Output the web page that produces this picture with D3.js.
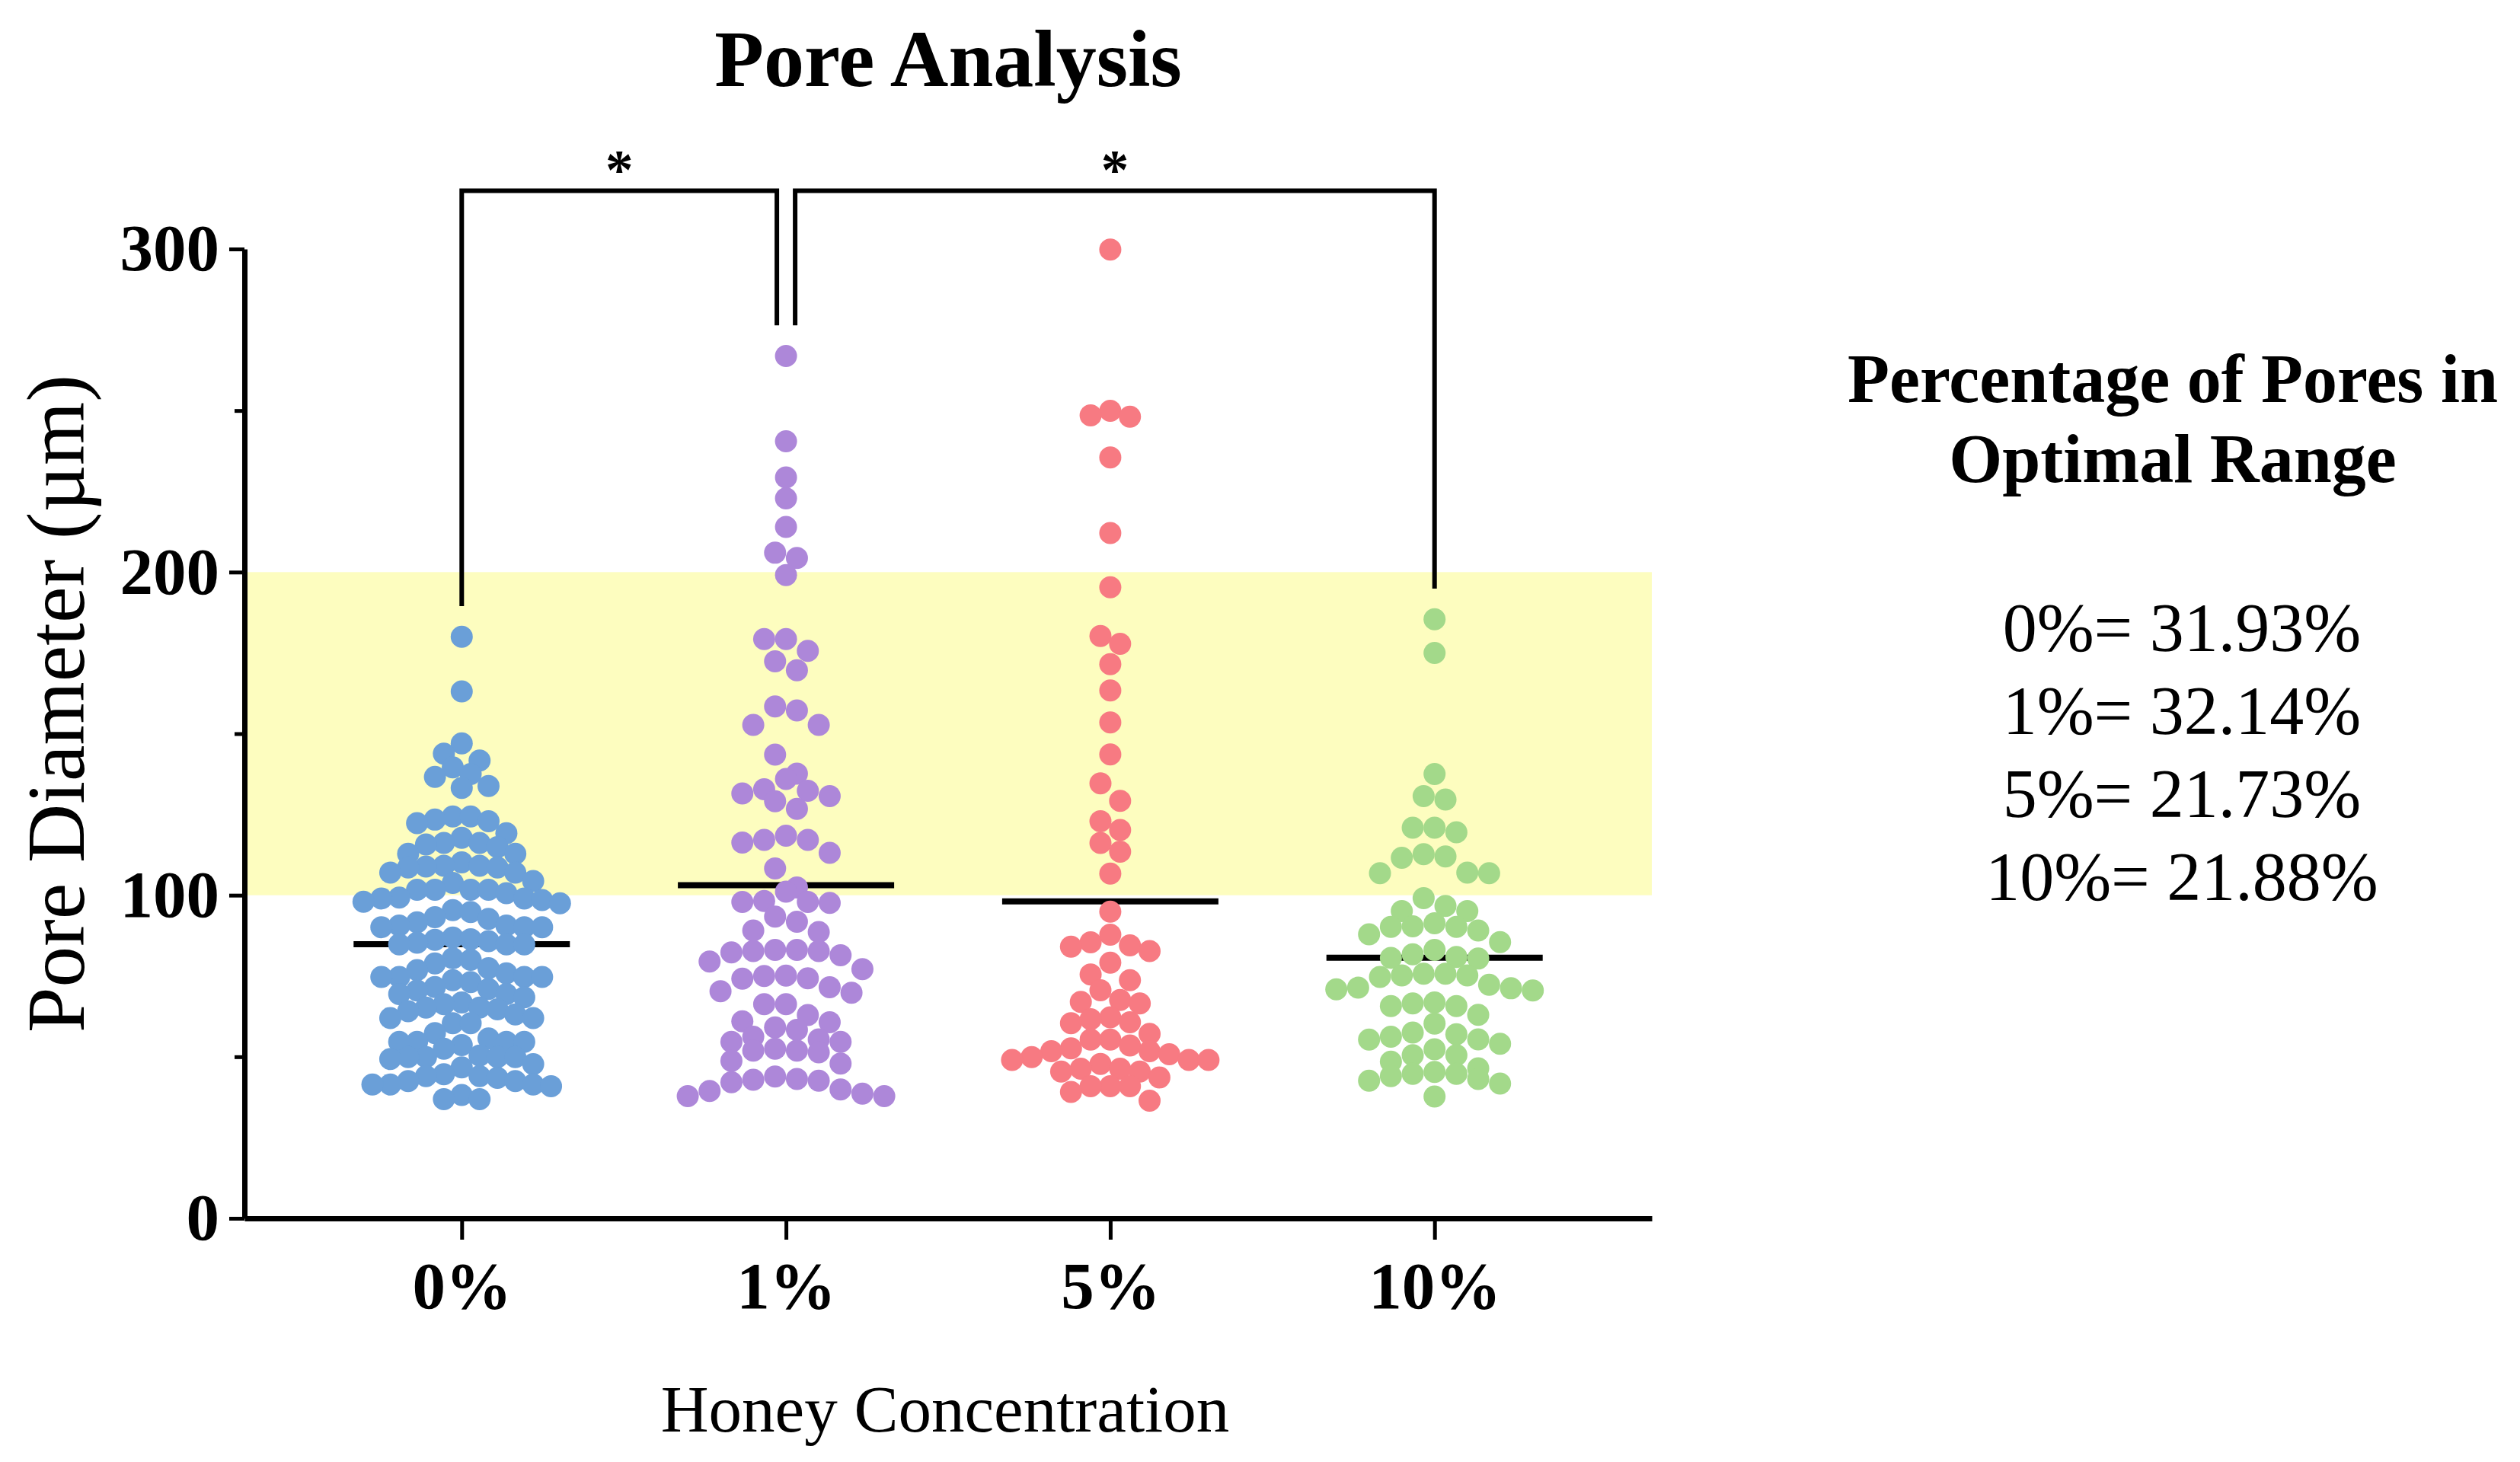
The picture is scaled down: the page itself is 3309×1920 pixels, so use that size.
<!DOCTYPE html>
<html>
<head>
<meta charset="utf-8">
<script src="https://cdn.jsdelivr.net/npm/d3@7"></script>
<style>
  body { margin: 0; background: #fff; }
  text { font-family: "Liberation Serif", "Times New Roman", serif; }
</style>
</head>
<body>
<div id="chart-container"></div>
<script>
const groups = ["0%", "1%", "5%", "10%"]
const colors = ["#6a9fd8", "#ad87d9", "#f77a82", "#a3d98a"]
const yTicks = [0, 100, 200, 300]
const yMinorTicks = [50, 150, 250]
const optimalRange = [100, 200]
const optimalLines = ["0%= 31.93%", "1%= 32.14%", "5%= 21.73%", "10%= 21.88%"]

// pore diameters (µm), one array per honey concentration
const pores0 = [
  180.0, 163.1, 147.0, 143.8, 141.7, 139.6, 137.5, 136.6, 133.8, 133.2,
  124.4, 123.4, 122.9, 124.4, 122.3, 119.2, 116.2, 114.9, 115.7, 116.2,
  117.8, 112.8, 112.8, 109.1, 109.1, 107.0, 108.9, 108.6, 108.6, 110.2,
  107.0, 104.4, 101.7, 101.7, 101.7, 101.7, 103.8, 100.6, 99.3, 98.5,
  99.0, 99.0, 97.5, 98.0, 95.4, 94.8, 93.2, 92.7, 91.6, 90.6,
  90.6, 90.1, 90.1, 90.1, 86.9, 86.2, 86.4, 85.8, 84.8, 85.3,
  84.8, 84.8, 80.5, 80.0, 78.9, 77.4, 76.8, 74.7, 74.7, 73.7,
  73.1, 74.7, 75.8, 74.7, 71.6, 71.0, 70.5, 69.4, 69.4, 68.4,
  66.8, 66.3, 65.2, 65.2, 64.7, 64.1, 63.1, 62.0, 62.0, 60.4,
  60.4, 57.3, 55.7, 54.6, 54.6, 54.6, 54.6, 53.6, 52.5, 50.4,
  49.9, 49.9, 49.9, 49.3, 49.9, 47.7, 46.7, 44.6, 44.0, 44.0,
  43.5, 42.5, 42.5, 41.4, 41.4, 40.9, 41.4, 38.2, 36.9, 36.9
]
const pores1 = [
  266.9, 240.5, 229.3, 222.8, 214.0, 206.0, 204.4, 199.1, 175.6, 179.3,
  179.3, 172.4, 169.6, 158.4, 157.2, 152.7, 152.7, 143.5, 136.0, 137.6,
  132.3, 131.5, 129.1, 126.7, 132.8, 130.7, 118.4, 116.3, 117.1, 117.1,
  113.1, 108.3, 101.1, 102.4, 97.9, 98.2, 97.9, 97.6, 91.8, 93.4,
  89.1, 88.6, 83.1, 82.7, 79.5, 82.7, 83.1, 81.4, 82.3, 75.1,
  74.3, 77.1, 74.2, 75.0, 69.8, 71.5, 70.3, 66.3, 66.3, 62.9,
  60.7, 61.0, 56.2, 58.3, 59.1, 51.9, 52.5, 51.9, 54.6, 55.4,
  54.6, 47.9, 51.4, 48.7, 43.9, 42.6, 43.1, 42.9, 42.1, 39.4,
  37.8, 38.6, 39.9, 37.8
]
const pores5 = [
  299.8, 248.1, 249.9, 248.5, 235.5, 212.1, 195.3, 180.2, 177.8, 171.5,
  163.4, 153.5, 143.6, 134.6, 129.2, 122.9, 120.2, 116.2, 113.5, 106.7,
  94.9, 87.8, 84.5, 84.1, 82.7, 85.4, 79.1, 73.7, 75.5, 70.6,
  66.5, 67.6, 67.0, 61.6, 62.2, 60.7, 60.4, 57.1, 55.3, 49.0,
  49.9, 50.8, 53.5, 55.3, 52.6, 51.7, 51.7, 49.0, 49.0, 45.4,
  47.8, 46.3, 46.3, 45.4, 43.6, 39.1, 40.9, 40.9, 40.9, 36.4
]
const pores10 = [
  185.4, 175.0, 137.5, 130.7, 129.6, 120.9, 119.5, 120.9, 111.6, 112.7,
  112.0, 106.8, 106.8, 107.0, 99.1, 95.1, 95.1, 96.7, 89.1, 90.2,
  90.4, 91.3, 90.2, 87.9, 85.5, 80.6, 81.7, 80.4, 83.1, 80.9,
  75.7, 75.7, 74.7, 75.2, 75.2, 71.2, 72.3, 71.4, 70.9, 70.5,
  66.8, 66.5, 65.7, 65.7, 63.0, 60.3, 54.0, 55.4, 57.0, 55.3,
  57.5, 56.2, 52.3, 50.5, 48.5, 50.5, 44.0, 46.4, 44.7, 43.1,
  41.7, 42.6, 45.3, 44.7, 37.7
]
const series = [pores0, pores1, pores5, pores10]

// significance brackets
const comparisons = [
  { from: "0%", to: "1%", label: "*" },
  { from: "1%", to: "10%", label: "*" }
]

const width = 3309
const height = 1920
const plot = { left: 321, right: 2169, top: 327, bottom: 1600 }
const dotR = 14.5
const meanHalf = 142

const x = d3.scalePoint()
  .domain(groups)
  .range([plot.left, plot.right])
  .padding(0.67)
const y = d3.scaleLinear()
  .domain([0, 300])
  .range([plot.bottom, plot.top])

// prism-like scatter: rows of close values spread side by side
function swarm(values, cx) {
  const rowSpan = 27 / (y(0) - y(1))
  const sorted = values.slice().sort((a, b) => b - a)
  const rows = []
  sorted.forEach(v => {
    const row = rows[rows.length - 1]
    if (row && row[0] - v < rowSpan) row.push(v)
    else rows.push([v])
  })
  const maxN = d3.max(rows, r => r.length)
  const step = Math.min(28.7, 258 / Math.max(1, maxN - 1))
  return rows.flatMap(row => {
    const n = row.length
    const slots = d3.range(n).map(k => (k - (n - 1) / 2) * step)
    const order = d3.range(n).sort((a, b) =>
      Math.abs(slots[a]) - Math.abs(slots[b]) || slots[a] - slots[b])
    return row.map((v, k) => ({ value: v, x: cx + slots[order[k]] }))
  })
}

const svg = d3.select("#chart-container")
  .append("svg")
    .attr("width", width)
    .attr("height", height)
    .attr("viewBox", `0 0 ${width} ${height}`)

svg.append("rect")
  .attr("width", width)
  .attr("height", height)
  .attr("fill", "#fff")

// optimal range band
svg.append("rect")
  .attr("x", plot.left)
  .attr("width", plot.right - plot.left)
  .attr("y", y(optimalRange[1]))
  .attr("height", y(optimalRange[0]) - y(optimalRange[1]))
  .attr("fill", "#fdfdbf")

// mean lines
groups.forEach((g, i) => {
  const m = d3.mean(series[i])
  svg.append("line")
    .attr("x1", x(g) - meanHalf)
    .attr("x2", x(g) + meanHalf)
    .attr("y1", y(m))
    .attr("y2", y(m))
    .attr("stroke", "#000")
    .attr("stroke-width", 8)
})

// dots
groups.forEach((g, i) => {
  svg.append("g")
    .selectAll("circle")
    .data(swarm(series[i], x(g)))
    .join("circle")
      .attr("cx", d => d.x)
      .attr("cy", d => y(d.value))
      .attr("r", dotR)
      .attr("fill", colors[i])
})

// y axis
const yAxis = svg.append("g")
  .attr("transform", `translate(${plot.left},0)`)
  .call(d3.axisLeft(y).tickValues(yTicks).tickSize(20).tickSizeOuter(0).tickPadding(13))
yAxis.select(".domain").attr("stroke-width", 7)
yAxis.selectAll(".tick line").attr("stroke-width", 5)
yAxis.selectAll(".tick text")
  .attr("font-family", "Liberation Serif, serif")
  .attr("font-size", 87)
  .attr("font-weight", "bold")
  .attr("fill", "#000")

svg.append("g")
  .attr("transform", `translate(${plot.left},0)`)
  .call(d3.axisLeft(y).tickValues(yMinorTicks).tickSize(13).tickFormat(""))
  .call(g => g.select(".domain").remove())
  .selectAll(".tick line").attr("stroke-width", 5)

// x axis
const xAxis = svg.append("g")
  .attr("transform", `translate(0,${plot.bottom})`)
  .call(d3.axisBottom(x).tickSize(28).tickSizeOuter(0).tickPadding(28))
xAxis.select(".domain").attr("stroke-width", 7)
xAxis.selectAll(".tick line").attr("stroke-width", 5)
xAxis.selectAll(".tick text")
  .attr("font-family", "Liberation Serif, serif")
  .attr("font-size", 87)
  .attr("font-weight", "bold")
  .attr("fill", "#000")

// significance brackets
const used = d3.rollup(comparisons.flatMap(c => [c.from, c.to]), v => v.length, d => d)
const maxOf = g => d3.max(series[groups.indexOf(g)])
const barY = y(318)
comparisons.forEach(c => {
  const xa = x(c.from) + (used.get(c.from) > 1 ? 12 : 0)
  const xb = x(c.to) - (used.get(c.to) > 1 ? 12 : 0)
  const path = d3.path()
  path.moveTo(xa, y(maxOf(c.from) + 9.5))
  path.lineTo(xa, barY)
  path.lineTo(xb, barY)
  path.lineTo(xb, y(maxOf(c.to) + 9.5))
  svg.append("path")
    .attr("d", path.toString())
    .attr("fill", "none")
    .attr("stroke", "#000")
    .attr("stroke-width", 6)
  svg.append("text")
    .attr("x", (xa + xb) / 2)
    .attr("y", barY - 3)
    .attr("text-anchor", "middle")
    .attr("font-size", 73)
    .attr("font-weight", "bold")
    .text(c.label)
})

// titles
svg.append("text")
  .attr("x", 1245)
  .attr("y", 113)
  .attr("text-anchor", "middle")
  .attr("font-size", 106)
  .attr("font-weight", "bold")
  .text("Pore Analysis")

svg.append("text")
  .attr("transform", "translate(110,924) rotate(-90)")
  .attr("text-anchor", "middle")
  .attr("font-size", 107)
  .text("Pore Diameter (µm)")

svg.append("text")
  .attr("x", 1241)
  .attr("y", 1880)
  .attr("text-anchor", "middle")
  .attr("font-size", 87)
  .text("Honey Concentration")

// side note
const note = svg.append("g")
note.selectAll(".head")
  .data(["Percentage of Pores in", "Optimal Range"])
  .join("text")
    .attr("class", "head")
    .attr("x", 2853)
    .attr("y", (d, i) => 528 + i * 105)
    .attr("text-anchor", "middle")
    .attr("font-size", 90)
    .attr("font-weight", "bold")
    .text(d => d)
note.selectAll(".val")
  .data(optimalLines)
  .join("text")
    .attr("class", "val")
    .attr("x", 2865)
    .attr("y", (d, i) => 855 + i * 109)
    .attr("text-anchor", "middle")
    .attr("font-size", 90)
    .text(d => d)
</script>
</body>
</html>
